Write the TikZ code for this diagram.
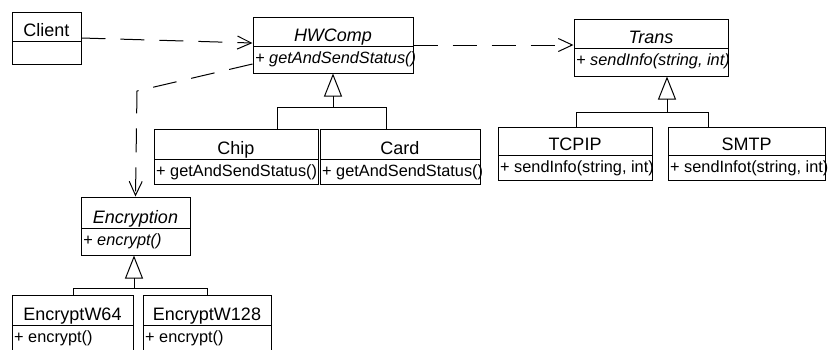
\documentclass[tikz,border=0pt]{standalone}
\usepackage{fontspec}
\setmainfont{Liberation Sans}
\usetikzlibrary{arrows.meta}
\tikzset{
  clsbox/.style={draw, line width=1pt, inner sep=0pt, fill=white},
  ttl/.style={font=\fontsize{18}{20}\selectfont, inner sep=0pt, anchor=base},
  mth/.style={font=\fontsize{16.3}{18}\selectfont, inner sep=0pt, anchor=base west},
  dep/.style={draw, line width=1pt, dash pattern=on 24pt off 15pt,
    -{Straight Barb[length=14pt,width=13pt]}},
  gen/.style={draw, line width=1pt},
  genhead/.style={gen, -{Triangle[open,length=23pt,width=18pt]}}
}
% #1 name, #2 x1, #3 y1, #4 x2, #5 ydiv, #6 y2, #7 title, #8 method
\newcommand\umlcls[8]{%
  \node[clsbox, minimum width=#4-#2, minimum height=#6-#3] (#1) at ({(#2+#4)/2},{(#3+#6)/2}) {};
  \draw[line width=1pt] (#2,#5) -- (#4,#5);
  \node[ttl] (#1-t) at ({(#2+#4)/2},{#5-5}) {#7};
  \node[mth] (#1-m) at ({#2+2},{#5+17.5}) {#8};
}
\begin{document}
\begin{tikzpicture}[x=1pt,y=-1pt]
\useasboundingbox (0,0) rectangle (828,349);
\clip (0,0) rectangle (828,349);
\umlcls{client}{12}{12}{81}{41}{64}{Client}{}
\umlcls{hwcomp}{253}{17}{413}{46}{73}{\itshape HWComp}{\itshape + getAndSendStatus()}
\umlcls{trans}{574}{19}{728}{48}{76}{\itshape Trans}{\itshape + sendInfo(string, int)}
\umlcls{chip}{154}{129}{318}{159}{184}{Chip}{+ getAndSendStatus()}
\umlcls{card}{320}{129}{480}{159}{184}{Card}{+ getAndSendStatus()}
\umlcls{tcpip}{498}{127}{652}{155}{180}{TCPIP}{+ sendInfo(string, int)}
\umlcls{smtp}{668}{127}{825}{155}{180}{SMTP}{+ sendInfot(string, int)}
\umlcls{encryption}{81}{197}{190}{228}{255}{\itshape Encryption}{\itshape + encrypt()}
\umlcls{ew64}{12}{295}{133}{325}{370}{EncryptW64}{+ encrypt()}
\umlcls{ew128}{143}{295}{271}{325}{370}{EncryptW128}{+ encrypt()}

% dependencies
\draw[dep] (client.east) -- ([yshift=2pt]hwcomp.west);
\draw[dep] (hwcomp.east) -- (hwcomp.east -| trans.west);
\coordinate (bend) at (137,91);
\draw[dep] ([yshift=-19pt]hwcomp.west) -- (bend) -- (encryption.north);

% generalization HWComp
\coordinate (hwL) at (277,107);
\coordinate (hwM) at (333,107);
\coordinate (hwR) at (386,107);
\draw[gen] (hwL |- chip.north) -- (hwL) -- (hwR) -- (hwR |- card.north);
\draw[genhead] (hwM) -- (hwM |- hwcomp.south);

% generalization Trans
\coordinate (trL) at (576,112);
\coordinate (trM) at (667,112);
\coordinate (trR) at (708,112);
\draw[gen] (trL |- tcpip.north) -- (trL) -- (trR) -- (trR |- smtp.north);
\draw[genhead] (trM) -- (trM |- trans.south);

% generalization Encryption
\coordinate (enL) at (73,288);
\coordinate (enM) at (134,288);
\coordinate (enR) at (207,288);
\draw[gen] (enL |- ew64.north) -- (enL) -- (enR) -- (enR |- ew128.north);
\draw[genhead] (enM) -- (enM |- encryption.south);
\end{tikzpicture}
\end{document}
